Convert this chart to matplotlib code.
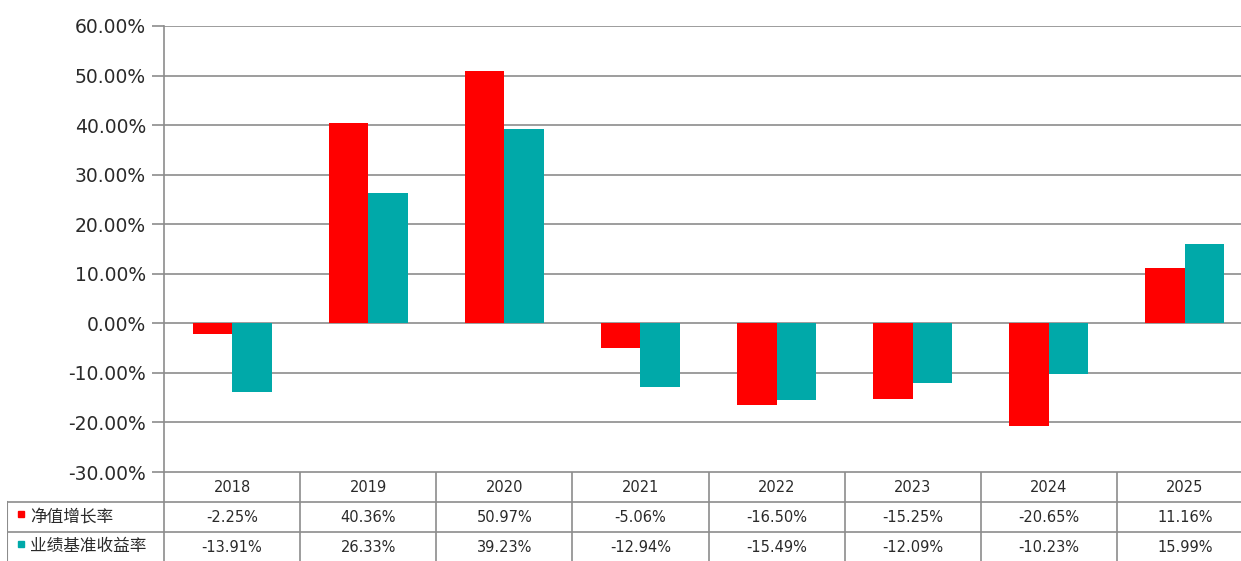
import matplotlib.pyplot as plt
import numpy as np

plt.rcParams['font.family'] = ['Noto Sans CJK SC', 'DejaVu Sans']

# data
years = ['2018', '2019', '2020', '2021', '2022', '2023', '2024', '2025']
nav_growth = [-2.25, 40.36, 50.97, -5.06, -16.50, -15.25, -20.65, 11.16]
benchmark = [-13.91, 26.33, 39.23, -12.94, -15.49, -12.09, -10.23, 15.99]
series_names = ['净值增长率', '业绩基准收益率']
colors = ['#FF0000', '#00A9A9']
grid_color = '#8C8C8C'
text_color = '#2A2A2A'

fig = plt.figure(figsize=(12.41, 5.61), dpi=100)
W, H = 1241, 561

# main chart axes (pixel layout) - right side runs past the image edge
x0, x1 = 164, 1253
y_top, y_bot = 26, 472
ax = fig.add_axes([x0 / W, 1 - y_bot / H, (x1 - x0) / W, (y_bot - y_top) / H])

n = len(years)
x = np.arange(n)
w = 0.29
ax.bar(x - w / 2, nav_growth, w, color=colors[0], zorder=3)
ax.bar(x + w / 2, benchmark, w, color=colors[1], zorder=3)

ax.set_xlim(-0.5, n - 0.5)
ax.set_ylim(-30, 60)
ticks = np.arange(-30, 61, 10)
ax.set_yticks(ticks)
ax.set_yticklabels(['%.2f%%' % t for t in ticks], fontsize=13.5, color=text_color,
                   family='DejaVu Sans')
ax.set_xticks([])
ax.tick_params(axis='y', length=9, width=1.2, color=grid_color, pad=4)
for t in ticks:
    ax.axhline(t, color=grid_color, lw=1.2, zorder=1)
for s in ['top', 'right', 'bottom']:
    ax.spines[s].set_visible(False)
ax.spines['left'].set_color(grid_color)
ax.spines['left'].set_linewidth(1.2)

# data table below the chart
tx0 = 7
tax = fig.add_axes([tx0 / W, 0, (x1 - tx0) / W, (H - y_bot) / H])
tax.set_xlim(tx0, x1)
tax.set_ylim(H, y_bot)
tax.axis('off')
row_edges = [472, 502, 532, 561]
col_w = (x1 - x0) / n
col_edges = [x0 + i * col_w for i in range(n + 1)]
lc = '#8C8C8C'
tax.plot([x0, x1], [472, 472], color=lc, lw=1.2)
for ry in row_edges[1:3]:
    tax.plot([tx0, x1], [ry, ry], color=lc, lw=1.2)
tax.plot([tx0, tx0], [502, 561], color=lc, lw=1.5)
for cx in col_edges:
    tax.plot([cx, cx], [472, 561], color=lc, lw=1.2)

num_font = dict(ha='center', va='center', fontsize=10.5, color=text_color,
                family='DejaVu Sans')
for i, yr in enumerate(years):
    cx = x0 + (i + 0.5) * col_w
    tax.text(cx, 487, yr, **num_font)
    tax.text(cx, 517, '%.2f%%' % nav_growth[i], **num_font)
    tax.text(cx, 547, '%.2f%%' % benchmark[i], **num_font)

for r, (name, c) in enumerate(zip(series_names, colors)):
    cy = 517 + 30 * r
    tax.plot([21], [cy - 3], marker='s', markersize=5, color=c, linestyle='none')
    tax.text(30, cy, name, ha='left', va='center', fontsize=12, color=text_color)

fig.savefig('out.png', dpi=100)
